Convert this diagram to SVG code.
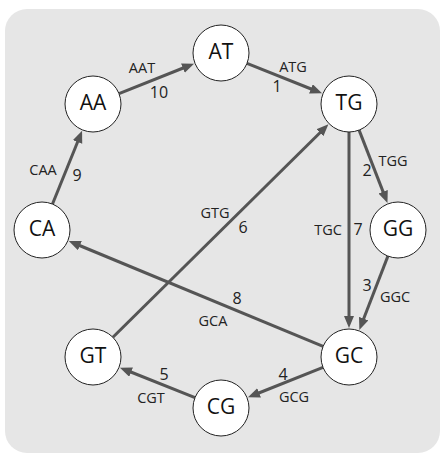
<svg xmlns="http://www.w3.org/2000/svg" width="444" height="462" viewBox="0 0 444 462">
<defs>
<marker id="arr" markerUnits="userSpaceOnUse" markerWidth="13" markerHeight="11" refX="3" refY="5" orient="auto">
<path d="M0,0 L12,5 L0,10 z" fill="#555"/>
</marker>
<style>
.bg{fill:#e6e6e6}
.node circle{fill:#fff;stroke:#222;stroke-width:1}
.node text{font-family:"Open Sans","Noto Sans",sans-serif;font-size:21px;fill:#111;text-anchor:middle}
.edges line{stroke:#555;stroke-width:3;marker-end:url(#arr)}
.lbl{font-family:"Open Sans","Noto Sans",sans-serif;font-size:14.5px;fill:#222;text-anchor:middle}
.num{font-family:"Open Sans","Noto Sans",sans-serif;font-size:16px;fill:#222;text-anchor:middle}
</style>
</defs>
<rect class="bg" x="5" y="9" width="435" height="444" rx="22" ry="22"/>
<g id="connectors" class="edges">
<line x1="247.0" y1="63.4" x2="313.7" y2="90.0"/>
<line x1="359.1" y1="130.1" x2="384.2" y2="194.6"/>
<line x1="387.9" y1="256.1" x2="362.6" y2="321.5"/>
<line x1="323.0" y1="367.4" x2="256.3" y2="394.0"/>
<line x1="195.0" y1="397.6" x2="128.3" y2="371.0"/>
<line x1="112.9" y1="337.3" x2="322.0" y2="130.7"/>
<line x1="349" y1="132" x2="349" y2="319"/>
<line x1="323.1" y1="346.3" x2="77.1" y2="244.5"/>
<line x1="52.5" y1="204.0" x2="78.7" y2="139.2"/>
<line x1="119.0" y1="93.6" x2="185.7" y2="67.0"/>
</g>
<g id="edge-labels">
<text class="lbl" x="293" y="72">ATG</text><text class="num" x="277" y="92">1</text>
<text class="lbl" x="393" y="166">TGG</text><text class="num" x="367" y="176">2</text>
<text class="num" x="367" y="291">3</text><text class="lbl" x="395" y="302">GGC</text>
<text class="num" x="283" y="380">4</text><text class="lbl" x="294" y="402">GCG</text>
<text class="num" x="164" y="380">5</text><text class="lbl" x="151" y="403">CGT</text>
<text class="lbl" x="215" y="218">GTG</text><text class="num" x="243" y="233">6</text>
<text class="lbl" x="328" y="235">TGC</text><text class="num" x="358" y="235">7</text>
<text class="num" x="237" y="304">8</text><text class="lbl" x="213" y="326">GCA</text>
<text class="lbl" x="43" y="175">CAA</text><text class="num" x="77" y="181">9</text>
<text class="lbl" x="142" y="73">AAT</text><text class="num" x="159" y="98">10</text>
</g>
<g id="node-AT" class="node"><circle cx="221" cy="53" r="28"/><text x="221" y="59">AT</text></g>
<g id="node-AA" class="node"><circle cx="93" cy="104" r="28"/><text x="93" y="110">AA</text></g>
<g id="node-TG" class="node"><circle cx="349" cy="104" r="28"/><text x="349" y="110">TG</text></g>
<g id="node-CA" class="node"><circle cx="42" cy="230" r="28"/><text x="42" y="236">CA</text></g>
<g id="node-GG" class="node"><circle cx="398" cy="230" r="28"/><text x="398" y="236">GG</text></g>
<g id="node-GT" class="node"><circle cx="93" cy="357" r="28"/><text x="93" y="363">GT</text></g>
<g id="node-GC" class="node"><circle cx="349" cy="357" r="28"/><text x="349" y="363">GC</text></g>
<g id="node-CG" class="node"><circle cx="221" cy="408" r="28"/><text x="221" y="414">CG</text></g>
</svg>
